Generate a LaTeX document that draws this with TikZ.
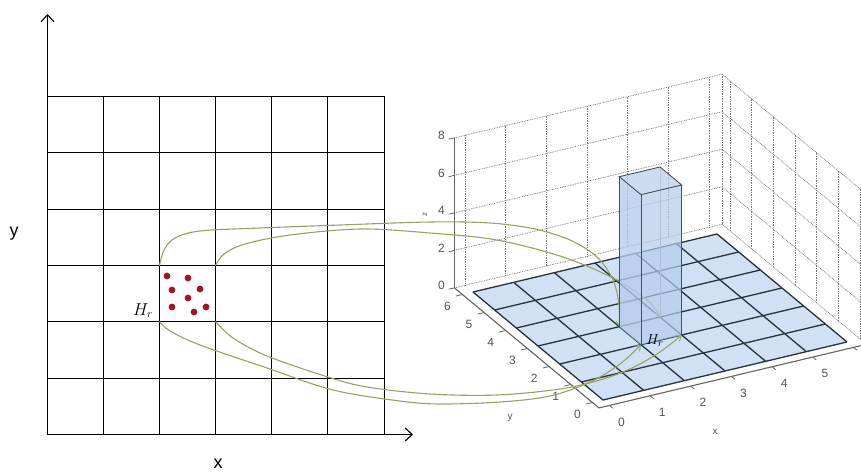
\documentclass[tikz,border=0pt]{standalone}
\usepackage{fontspec}
\setsansfont{Liberation Sans}
\usetikzlibrary{arrows.meta}
\definecolor{curvecol}{RGB}{150,163,100}
\definecolor{arrowcol}{RGB}{125,180,115}
\definecolor{floorblue}{RGB}{208,225,245}
\definecolor{barblue}{RGB}{180,204,236}
\definecolor{edgecol}{RGB}{40,50,60}
\definecolor{dotred}{RGB}{160,20,35}
\definecolor{axgray}{RGB}{100,100,100}
\definecolor{gridgray}{RGB}{125,125,125}
\begin{document}
\begin{tikzpicture}[x=1pt,y=-1pt,
  cellline/.style={black,line width=1.2pt},
  axisarrow/.style={black,line width=1.3pt,-{Straight Barb[length=7pt,width=13pt,line width=1.1pt]}},
  wallgrid/.style={gridgray,line width=0.75pt,dash pattern=on 0.8pt off 0.9pt},
  axisthree/.style={axgray,line width=1.1pt},
  tickthree/.style={axgray,line width=0.8pt},
  ticklab/.style={font=\sffamily\fontsize{12}{13}\selectfont,text=axgray!85!black,inner sep=0pt},
  floorline/.style={edgecol,line width=1.3pt},
  baredge/.style={edgecol!85,line width=0.9pt},
  mapcurve/.style={curvecol,line width=1.1pt,-{Straight Barb[length=5pt,width=7pt,line width=0.9pt,color=arrowcol]}},
  samplept/.style={circle,fill=dotred,inner sep=0pt,minimum size=6.8pt},
  proj/.style={shift={(603,400)},x={(40.67pt,9.67pt)},y={(-21.67pt,18pt)},z={(0pt,18.75pt)}},
]
\fill[white] (0,0) rectangle (861,472);
\useasboundingbox (0,0) rectangle (861,472);
\clip (0,0) rectangle (861,472);

% ---------- left 2D grid ----------
\foreach \p in {47.5,103.5,159.5,215.5,271.5,327.5,384.5}
  \draw[cellline] (\p,96.5) -- (\p,434.5);
\foreach \q in {96.5,152.5,209.5,265.5,321.5,378.5,434.5}
  \draw[cellline] (47.5,\q) -- (384.5,\q);
\coordinate (O) at (47.5,434.5);
\coordinate (ytip) at (47.5,14);
\coordinate (xtip) at (413,434.5);
\draw[axisarrow] (O) -- (ytip);
\draw[axisarrow] (O) -- (xtip);
\node[font=\sffamily\fontsize{18}{20}\selectfont,anchor=base,inner sep=0pt] (ylab) at (14,236.5) {y};
\node[font=\sffamily\fontsize{18}{20}\selectfont,anchor=base,inner sep=0pt] (xlab) at (218,468) {x};

\coordinate (A) at (159.5,265.5);
\coordinate (B) at (215.5,265.5);
\coordinate (C) at (159.5,321.5);
\coordinate (D) at (215.5,321.5);

\node[samplept] (s1) at (167,276) {};
\node[samplept] (s2) at (188,278) {};
\node[samplept] (s3) at (172,290) {};
\node[samplept] (s4) at (200,289) {};
\node[samplept] (s5) at (188,298) {};
\node[samplept] (s6) at (172,307) {};
\node[samplept] (s7) at (206,307) {};
\node[samplept] (s8) at (194,312) {};
\node[font=\fontsize{16}{18}\selectfont,anchor=base,inner sep=0pt] (hl) at (143,315) {$H_r$};

% ---------- 3D plot: walls, axes, floor ----------
\begin{scope}[proj]
  % back wall (y = ymax)
  \foreach \i in {0,...,6} \draw[wallgrid] (\i,6.37,0) -- (\i,6.37,8);
  \foreach \k in {0,2,...,8} \draw[wallgrid] (-0.26,6.37,\k) -- (6.32,6.37,\k);
  \draw[wallgrid] (6.32,6.37,0) -- (6.32,6.37,8);
  % right wall (x = xmax)
  \foreach \j in {0,...,6} \draw[wallgrid] (6.32,\j,0) -- (6.32,\j,8);
  \foreach \k in {0,2,...,8} \draw[wallgrid] (6.32,-0.3,\k) -- (6.32,6.37,\k);
  % axes
  \draw[axisthree] (-0.26,6.37,0) -- (-0.26,6.37,8);
  \draw[axisthree] (-0.26,-0.3,0) -- (-0.26,6.37,0);
  \draw[axisthree] (-0.26,-0.3,0) -- (6.5,-0.3,0);
  \foreach \k in {0,2,...,8} {
    \draw[tickthree] (-0.26,6.37,\k) -- (-0.4,6.37,\k);
    \node[ticklab,xshift=-13pt,yshift=2pt] (zl\k) at (-0.26,6.37,\k) {\k};
  }
  \foreach \j in {0,...,6} {
    \draw[tickthree] (-0.26,\j,0) -- (-0.42,\j,0);
    \node[ticklab,xshift=-15pt,yshift=-12pt] (yl\j) at (-0.26,\j,0) {\j};
  }
  \foreach \i in {0,...,6} {
    \draw[tickthree] (\i,-0.3,0) -- (\i,-0.46,0);
    \node[ticklab,xshift=12pt,yshift=-16.5pt] (xl\i) at (\i,-0.3,0) {\i};
  }
  % floor
  \fill[floorblue] (0,0,0) -- (6,0,0) -- (6,6,0) -- (0,6,0) -- cycle;
  \foreach \i in {0,...,6} {
    \draw[floorline] (\i,0,0) -- (\i,6,0);
    \draw[floorline] (0,\i,0) -- (6,\i,0);
  }
  \coordinate (P) at (2,3,0);
  \coordinate (Q) at (3,3,0);
  \coordinate (R) at (2,2,0);
  \coordinate (S) at (3,2,0);
\end{scope}
\node[font=\sffamily\fontsize{10}{12}\selectfont,text=axgray!85!black,inner sep=0pt] (xax) at (715,432) {x};
\node[font=\sffamily\fontsize{10}{12}\selectfont,text=axgray!85!black,inner sep=0pt] (yax) at (510,418) {y};
\node[font=\sffamily\fontsize{8}{10}\selectfont,text=axgray!85!black,inner sep=0pt,rotate=90] (zax) at (425,214) {z};

% ---------- mapping curves to back corners ----------
\draw[mapcurve] plot[smooth,tension=0.55] coordinates {(A) (164,250) (175,238) (200,231) (260,228) (340,225) (430,222) (490,223) (535,229) (570,240) (597,257) (613,280) (619,305) (P)};
\draw[mapcurve] plot[smooth,tension=0.55] coordinates {(B) (224,254) (245,244) (290,235) (360,229) (430,233) (497,240) (563,257) (613,278) (643,297) (655,308) (Q)};

% ---------- the bar ----------
\begin{scope}[proj]
  \draw[baredge,edgecol!45] (3,3,0) -- (3,3,8);
  \fill[barblue,fill opacity=0.78] (2,2,0) -- (2,3,0) -- (2,3,8) -- (2,2,8) -- cycle;
  \fill[barblue,fill opacity=0.7] (2,2,0) -- (3,2,0) -- (3,2,8) -- (2,2,8) -- cycle;
  \fill[barblue!85,fill opacity=0.8] (2,2,8) -- (3,2,8) -- (3,3,8) -- (2,3,8) -- cycle;
  \draw[baredge] (2,3,0) -- (2,3,8);
  \draw[baredge] (2,2,0) -- (2,2,8);
  \draw[baredge] (3,2,0) -- (3,2,8);
  \draw[baredge] (2,2,8) -- (3,2,8) -- (3,3,8) -- (2,3,8) -- cycle;
\end{scope}

% ---------- mapping curves to front corners ----------
\draw[mapcurve] plot[smooth,tension=0.55] coordinates {(C) (170,331) (200,345) (267,368) (333,390) (400,401) (440,404) (500,402) (550,396) (590,382) (620,364) (R)};
\draw[mapcurve] plot[smooth,tension=0.55] coordinates {(D) (233,338) (267,356) (328,377) (367,387) (430,394) (497,395) (560,389) (600,380) (632,368) (660,352) (S)};

\node[font=\fontsize{15}{17}\selectfont,anchor=base,inner sep=0pt] (hr) at (655,344) {$H_r$};
\end{tikzpicture}
\end{document}
